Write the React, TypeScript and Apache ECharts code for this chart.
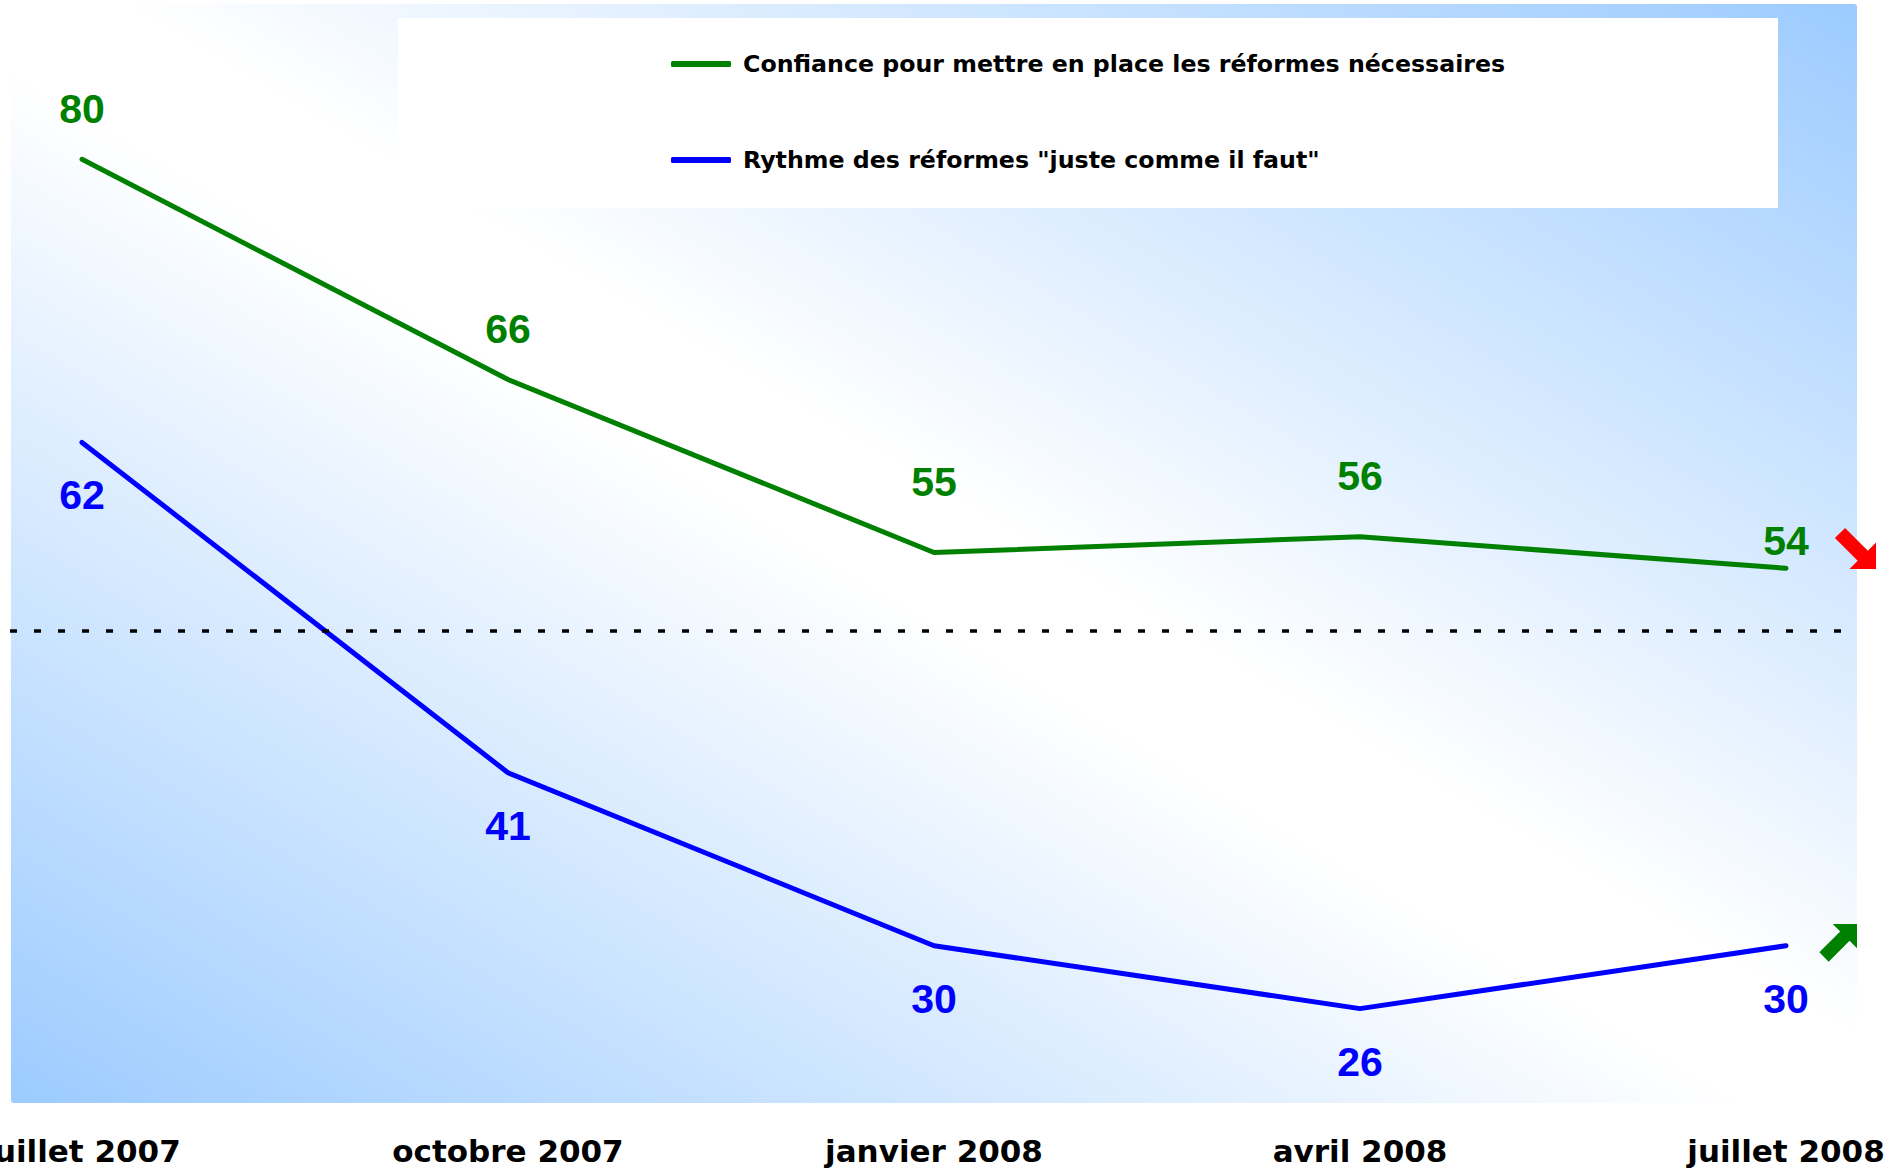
import React, { useEffect, useRef } from 'react';
import * as echarts from 'echarts';

const categories = ['juillet 2007', 'octobre 2007', 'janvier 2008', 'avril 2008', 'juillet 2008'];
const confianceValues = [80, 66, 55, 56, 54];
const rythmeValues = [62, 41, 30, 26, 30];
const seriesNames = [
  'Confiance pour mettre en place les réformes nécessaires',
  'Rythme des réformes "juste comme il faut"',
];
const referenceLevel = 50;
const yMin = 20;
const yMax = 90;

// label gaps (style only)
const confianceLabelGap = [29, 29, 50, 40, 6];
const rythmeLabelGap = 32;

const GREEN = '#008000';
const BLUE = '#0000ff';
const BG_BLUE = '#9ccbff';

function arrowPoints(x0: number, y0: number, size: number, dir: 'down' | 'up') {
  const L = size * Math.SQRT2;
  const w = size * 0.2;
  const h = size * 0.52;
  const hl = size * 0.52;
  const pts = [[0, -w], [L - hl, -w], [L - hl, -h], [L, 0], [L - hl, h], [L - hl, w], [0, w]];
  return pts.map(([u, v]) => {
    const x = (u + v) / Math.SQRT2;
    const y = (u - v) / Math.SQRT2;
    return dir === 'down' ? [x0 + x, y0 + y] : [x0 + x, y0 + size - y];
  });
}

export default function App() {
  const ref = useRef<HTMLDivElement>(null);
  useEffect(() => {
    if (!ref.current) return;
    const chart = echarts.init(ref.current, null, { renderer: 'svg' });
    const option: any = {
      animation: false,
      backgroundColor: '#ffffff',
      grid: { left: 82, right: 106, top: 2, bottom: 67, containLabel: false, outerBoundsMode: 'none' },
      xAxis: {
        type: 'category',
        data: categories,
        boundaryGap: false,
        axisLine: { show: false },
        axisTick: { show: false },
        splitLine: { show: false },
        axisLabel: {
          interval: 0,
          showMinLabel: true,
          showMaxLabel: true,
          margin: 32,
          fontFamily: 'DejaVu Sans',
          fontWeight: 'bold',
          fontSize: 31,
          color: '#000000',
        },
      },
      yAxis: { type: 'value', min: yMin, max: yMax, show: false, splitLine: { show: false } },
      legend: {
        orient: 'vertical',
        left: 666,
        top: 47,
        itemWidth: 60,
        itemHeight: 6,
        itemGap: 72,
        icon: 'roundRect',
        selectedMode: false,
        data: seriesNames,
        textStyle: {
          fontFamily: 'DejaVu Sans',
          fontWeight: 'bold',
          fontSize: 23.7,
          lineHeight: 24,
          color: '#000000',
          padding: [0, 0, 0, 7],
        },
      },
      graphic: [
        {
          type: 'rect',
          z: -10,
          silent: true,
          shape: { x: 11, y: 4, width: 1846, height: 1099, r: 3 },
          style: {
            fill: {
              type: 'linear',
              x: 0, y: 1, x2: 1, y2: 0,
              colorStops: [
                { offset: 0, color: BG_BLUE },
                { offset: 0.47, color: '#ffffff' },
                { offset: 0.53, color: '#ffffff' },
                { offset: 1, color: BG_BLUE },
              ],
              global: false,
            },
          },
        },
        {
          type: 'rect',
          z: -5,
          silent: true,
          shape: { x: 398, y: 18, width: 1380, height: 190 },
          style: { fill: '#ffffff' },
        },
        {
          type: 'polygon',
          z: 10,
          silent: true,
          shape: { points: arrowPoints(1840, 533, 36, 'down') },
          style: { fill: '#ff0000' },
        },
        {
          type: 'polygon',
          z: 10,
          silent: true,
          shape: { points: arrowPoints(1824, 924, 33, 'up') },
          style: { fill: GREEN },
        },
      ],
      series: [
        {
          name: seriesNames[0],
          type: 'line',
          data: confianceValues.map((v, i) => ({ value: v, label: { distance: confianceLabelGap[i] } })),
          color: GREEN,
          symbol: 'circle',
          symbolSize: 1,
          showSymbol: true,
          lineStyle: { color: GREEN, width: 5, cap: 'round' },
          itemStyle: { color: GREEN },
          label: {
            show: true,
            position: 'top',
            fontFamily: 'Liberation Sans, Arial, sans-serif',
            fontWeight: 'bold',
            fontSize: 41,
            color: GREEN,
          },
          emphasis: { disabled: true },
          markLine: {
            silent: true,
            symbol: ['none', 'none'],
            label: { show: false },
            emphasis: { disabled: true },
            lineStyle: { color: '#000000', width: 3.5, type: [7, 17] },
            data: [[{ yAxis: referenceLevel, x: 10 }, { yAxis: referenceLevel, x: 1856 }]],
          },
        },
        {
          name: seriesNames[1],
          type: 'line',
          data: rythmeValues,
          color: BLUE,
          symbol: 'circle',
          symbolSize: 1,
          showSymbol: true,
          lineStyle: { color: BLUE, width: 5, cap: 'round' },
          itemStyle: { color: BLUE },
          label: {
            show: true,
            position: 'bottom',
            distance: rythmeLabelGap,
            fontFamily: 'Liberation Sans, Arial, sans-serif',
            fontWeight: 'bold',
            fontSize: 41,
            color: BLUE,
          },
          emphasis: { disabled: true },
        },
      ],
    };
    chart.setOption(option);
    return () => chart.dispose();
  }, []);
  return (
    <div
      ref={ref}
      style={{ position: 'absolute', left: 0, top: 0, width: 1892, height: 1170 }}
    />
  );
}
